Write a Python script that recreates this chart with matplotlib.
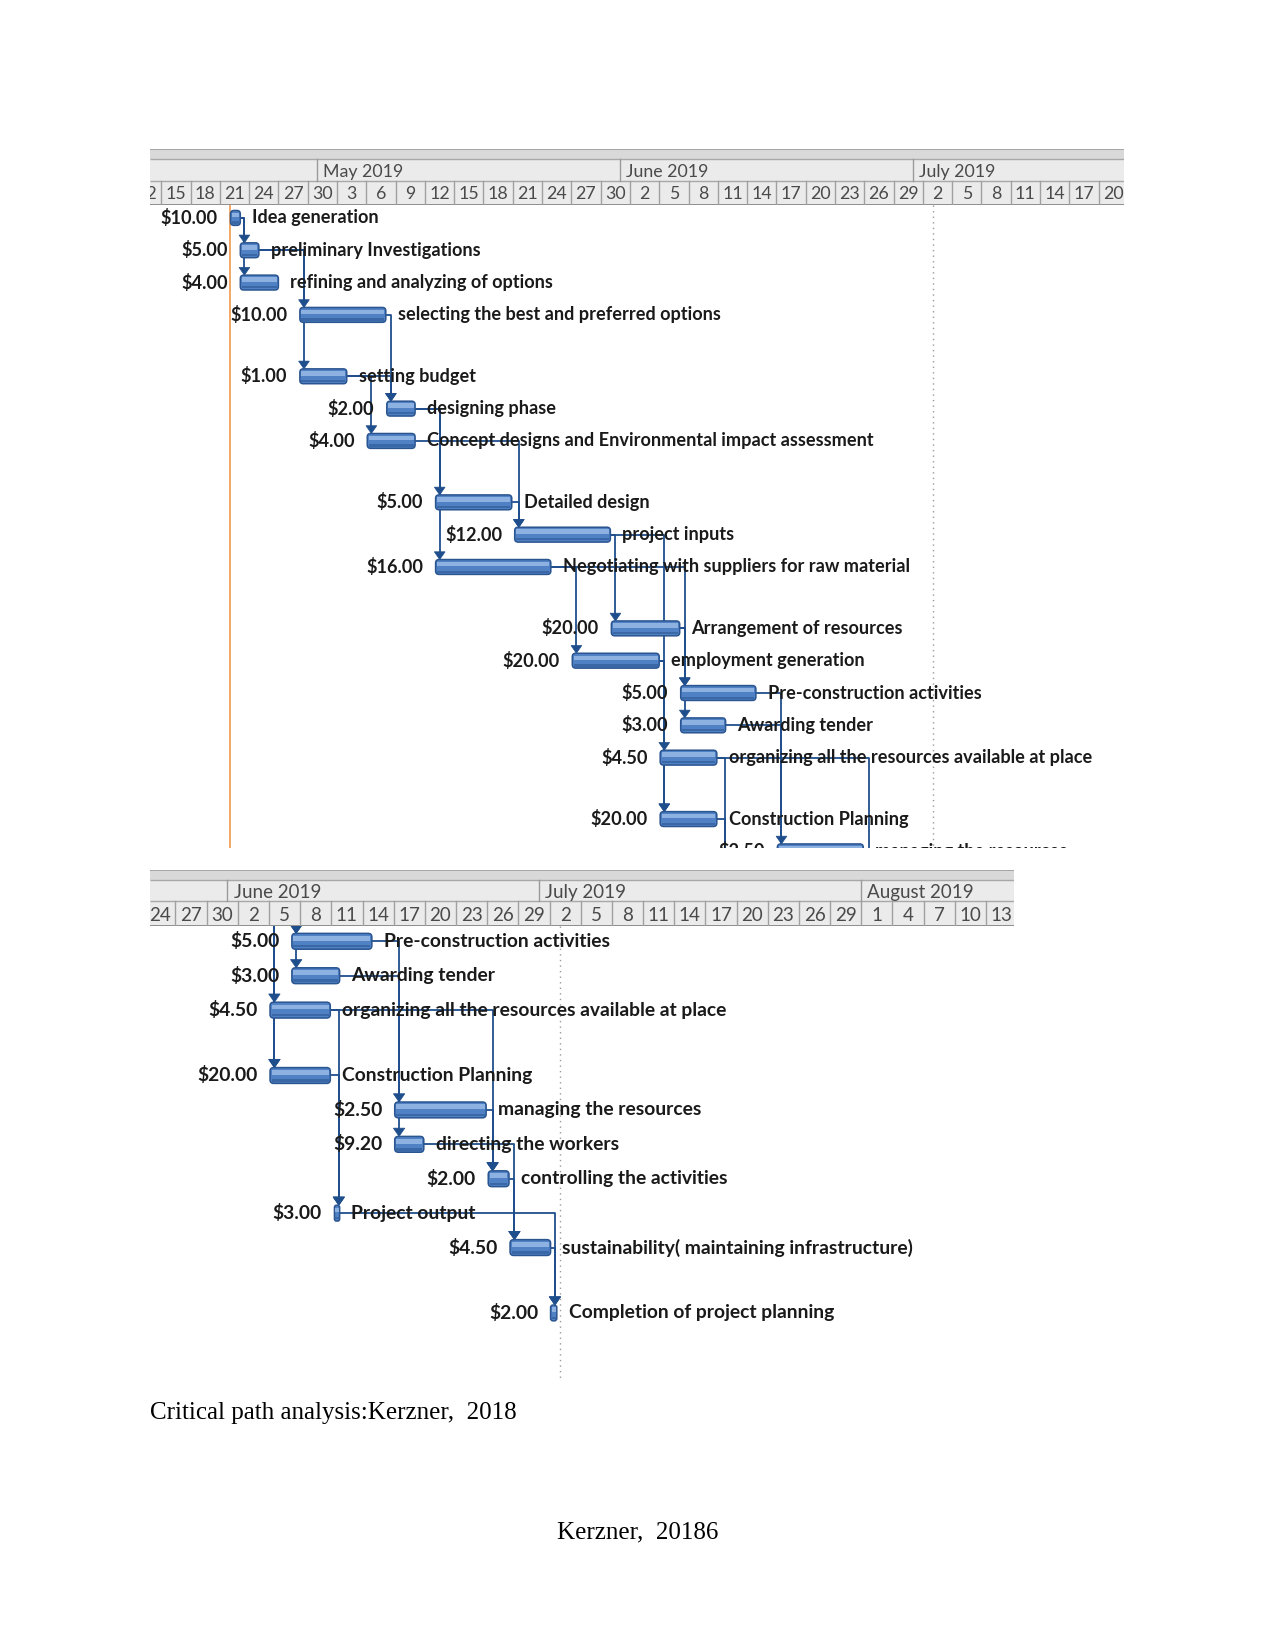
import matplotlib
matplotlib.use("Agg")
import matplotlib.pyplot as plt
from matplotlib.patches import Rectangle, FancyBboxPatch, Polygon
import pandas as pd

# ---------------- data ----------------
task_names = [
    "Idea generation",
    "preliminary Investigations",
    "refining and analyzing of options",
    "selecting the best and preferred options",
    "setting budget",
    "designing phase",
    "Concept designs and Environmental impact assessment",
    "Detailed design",
    "project inputs",
    "Negotiating with suppliers for raw material",
    "Arrangement of resources",
    "employment generation",
    "Pre-construction activities",
    "Awarding tender",
    "organizing all the resources available at place",
    "Construction Planning",
    "managing the resources",
    "directing the workers",
    "controlling the activities",
    "Project output",
    "sustainability( maintaining infrastructure)",
    "Completion of project planning",
]
task_costs = ["$10.00", "$5.00", "$4.00", "$10.00", "$1.00", "$2.00", "$4.00",
              "$5.00", "$12.00", "$16.00", "$20.00", "$20.00", "$5.00", "$3.00",
              "$4.50", "$20.00", "$2.50", "$9.20", "$2.00", "$3.00", "$4.50", "$2.00"]
# start / finish as days counted from 1 May 2019
task_start = [-8.9, -7.9, -7.9, -1.8, -1.8, 7.1, 5.1, 12.1, 20.2, 12.1, 30.1, 26.1,
              37.2, 37.2, 35.1, 35.1, 47.1, 47.1, 56.1, 41.3, 58.2, 62.1]
task_end = [-7.9, -6.0, -4.0, 7.0, 3.0, 10.0, 10.0, 19.9, 30.0, 23.9, 37.1, 35.0,
            44.9, 41.8, 40.9, 40.9, 55.9, 49.9, 58.1, 41.8, 62.1, 62.7]
# predecessor -> successor links (task indices)
links = [(0, 1), (0, 2), (1, 3), (1, 4), (3, 5), (4, 5), (4, 6), (5, 7), (5, 9),
         (6, 8), (7, 8), (8, 10), (8, 15), (9, 11), (9, 12), (10, 12), (10, 13),
         (11, 14), (11, 15), (12, 16), (13, 17), (14, 19), (14, 18), (15, 19),
         (16, 18), (17, 20), (18, 20), (19, 21), (20, 21)]
tall_rows = {3, 6, 9, 14, 20}          # rows drawn with double height
origin = pd.Timestamp("2019-05-01")
status_line_date = pd.Timestamp("2019-04-22")
dotted_line_date = pd.Timestamp("2019-07-03")
month_starts = ["2019-04-01", "2019-05-01", "2019-06-01", "2019-07-01", "2019-08-01"]
month_labels = ["April 2019", "May 2019", "June 2019", "July 2019", "August 2019"]
caption1 = "Critical path analysis:Kerzner,  2018"
caption2 = "Kerzner,  20186"

# ---------------- layout ----------------
W, H = 1275, 1651
fig = plt.figure(figsize=(W / 100, H / 100), dpi=100)
fig.patch.set_facecolor("white")

def fax(x0, y0, x1, y1):
    return fig.add_axes([x0 / W, 1 - y1 / H, (x1 - x0) / W, (y1 - y0) / H])

row_y = []
y = 0.0
for i in range(len(task_names)):
    row_y.append(y)
    y += 1.9 if i in tall_rows else 1.0

def dday(ts):
    return (pd.Timestamp(ts) - origin).days

BAR_H = 0.46
LINK_C = "#1F4E8C"
LABEL_FONT = ["Lato", "DejaVu Sans"]
HEAD_FONT = ["Lato", "DejaVu Sans"]


def draw_header(ax, x0, x1, fs):
    ax.set_xlim(x0, x1)
    ax.set_ylim(1, 0)
    ax.axis("off")
    ax.add_patch(Rectangle((x0, 0), x1 - x0, 1, fc="#EBEBEB", ec="none"))
    ax.add_patch(Rectangle((x0, 0), x1 - x0, 0.18, fc="#D9D9D9", ec="none"))
    for yy, c, lw in [(0.0, "#9C9C9C", 1.2), (0.18, "#A8A8A8", 1.0),
                      (0.56, "#A8A8A8", 1.0), (1.0, "#8E8E8E", 1.4)]:
        ax.plot([x0, x1], [yy, yy], color=c, lw=lw, solid_capstyle="butt")
    for ms, ml in zip(month_starts, month_labels):
        d = dday(ms)
        if d < x0 or d > x1:
            continue
        ax.plot([d, d], [0.18, 0.56], color="#9A9A9A", lw=1.0)
        ax.text(d + 0.6, 0.40, ml, fontsize=fs, color="#4A4A4A", va="center",
                ha="left", family=HEAD_FONT, clip_on=True)
    cols = pd.date_range("2019-04-12", "2019-08-20", freq="3D")
    for c in cols:
        d = (c - origin).days
        if d + 3 < x0 or d > x1:
            continue
        ax.plot([d, d], [0.56, 1.0], color="#A0A0A0", lw=1.0)
        ax.text(d + 1.5, 0.80, str(c.day), fontsize=fs, color="#4A4A4A",
                va="center", ha="center", family=HEAD_FONT, clip_on=True)


def draw_body(ax, x0, x1, ytop, ybot, fs, aspect):
    ax.set_xlim(x0, x1)
    ax.set_ylim(ybot, ytop)
    ax.axis("off")
    sd = dday(status_line_date)
    ax.plot([sd, sd], [ytop, ybot], color="#F0A868", lw=1.4)
    dd = dday(dotted_line_date)
    ax.plot([dd, dd], [ytop, ybot], color="#9A9A9A", lw=1.0, ls=(0, (1, 3)))
    # links
    for p, s in links:
        yp = row_y[p]
        xv = max(task_end[p], task_start[s]) + 0.42
        ys = row_y[s] - BAR_H / 2
        ah = 0.24
        ax.plot([task_end[p], xv, xv], [yp, yp, ys - ah], color=LINK_C, lw=1.3,
                solid_joinstyle="round")
        ax.add_patch(Polygon([[xv - 0.55, ys - ah], [xv + 0.55, ys - ah], [xv, ys]],
                             closed=True, fc=LINK_C, ec=LINK_C, lw=0.5))
    # bars
    for i, (st, en) in enumerate(zip(task_start, task_end)):
        yc = row_y[i]
        if yc < ytop - 0.3 or yc > ybot + 0.6:
            continue
        w = en - st
        r = min(0.35, w * 0.4)
        ax.add_patch(FancyBboxPatch((st, yc - BAR_H / 2), w, BAR_H,
                                    boxstyle=f"round,pad=0,rounding_size={r}",
                                    mutation_aspect=aspect, fc="#4F81C4",
                                    ec="#2B5590", lw=1.1, zorder=3))
        m = min(0.15, w * 0.2)
        ax.add_patch(Rectangle((st + m, yc - BAR_H / 2 + 0.07),
                               max(w - 2 * m, 0.05), BAR_H * 0.30,
                               fc="#8DB2E2", ec="none", zorder=3.5))
        ax.add_patch(Rectangle((st + m, yc + BAR_H / 2 - 0.12),
                               max(w - 2 * m, 0.05), 0.07,
                               fc="#3A67A6", ec="none", zorder=3.5))
        ax.annotate(task_costs[i], (st, yc), xytext=(-9, 0), textcoords="offset points",
                    ha="right", va="center", fontsize=fs, fontweight="bold",
                    color="#1A1A1A", family=LABEL_FONT, clip_on=True,
                    annotation_clip=False, zorder=4)
        ax.annotate(task_names[i], (en, yc), xytext=(8.5, 0), textcoords="offset points",
                    ha="left", va="center", fontsize=fs, fontweight="bold",
                    color="#1A1A1A", family=LABEL_FONT, clip_on=True,
                    annotation_clip=False, zorder=4)


# top panel
tx0, tx1 = -17.2, 82.6
hdr1 = fax(149.5, 149.5, 1124, 205)
draw_header(hdr1, tx0, tx1, 12.8)
body1 = fax(149.5, 205, 1124, 847.5)
draw_body(body1, tx0, tx1, -0.40, 19.48, 13.1, (1 / 32.32) / (1 / 9.765))

# bottom panel
bx0, bx1 = 23.5, 106.7
hdr2 = fax(149.5, 869.6, 1014, 926.5)
draw_header(hdr2, bx0, bx1, 13.5)
body2 = fax(149.5, 926.5, 1014, 1379)
draw_body(body2, bx0, bx1, 14.27, 27.42, 13.9, (1 / 34.43) / (1 / 10.39))

fig.text(149.5 / W, 1 - 1413 / H, caption1, fontsize=18, family=["Liberation Serif"],
         ha="left", va="center", color="black")
fig.text(638 / W, 1 - 1532 / H, caption2, fontsize=18, family=["Liberation Serif"],
         ha="center", va="center", color="black")

fig.savefig("out.png", dpi=100, facecolor="white")
